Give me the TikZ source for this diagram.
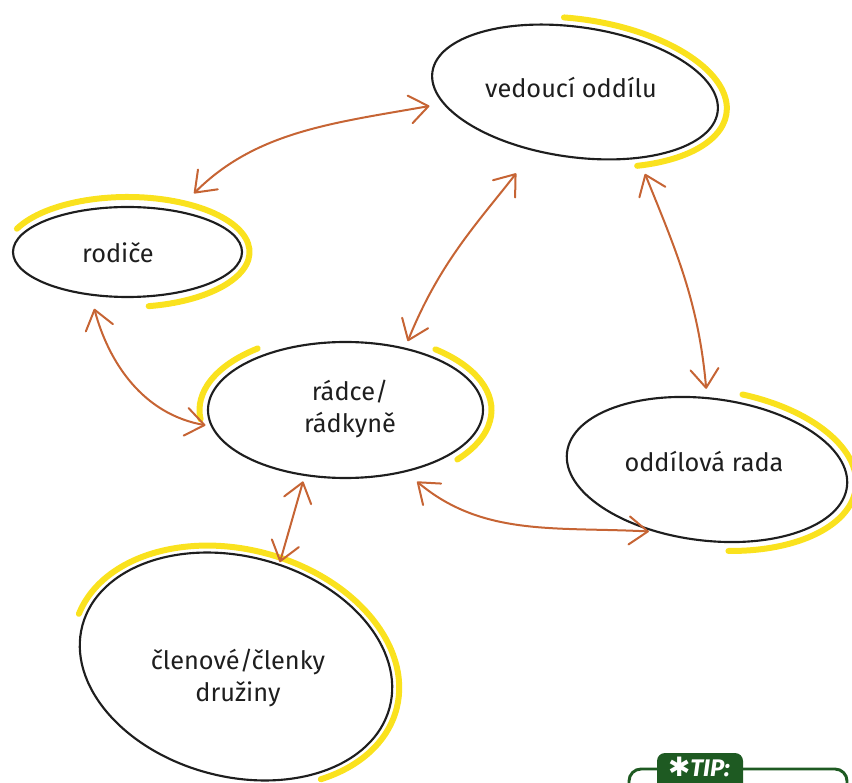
\documentclass[tikz,border=0pt]{standalone}
\usepackage{fontspec}
\setmainfont{Fira Sans}
\newfontfamily\symfnt{DejaVu Sans}
\usetikzlibrary{shapes.geometric,arrows.meta}
\definecolor{hl}{RGB}{250,226,30}
\definecolor{arrc}{RGB}{198,100,52}
\definecolor{tipg}{RGB}{30,90,34}
\definecolor{ink}{RGB}{30,30,30}
\begin{document}
\begin{tikzpicture}[x=0.75pt,y=0.75pt,
  bubble/.style={draw=ink, line width=1.6pt, ellipse, inner sep=0pt, outer sep=0pt},
  hlline/.style={draw=hl, line width=4.5pt, line cap=round},
  lbl/.style={font=\fontsize{19}{24}\selectfont, align=center, inner sep=0pt, text=ink},
  rel/.style={draw=arrc, line width=1.5pt, line cap=round,
    {Straight Barb[length=14pt,width=21pt,round]}-{Straight Barb[length=14pt,width=21pt,round]}},
]
\useasboundingbox (0,0) rectangle (852,782);

% yellow highlights
\begin{scope}[shift={(575,690)},rotate=-8]
  \draw[hlline] (98:153 and 73) arc[start angle=98,end angle=-62,x radius=153,y radius=73];
\end{scope}
\begin{scope}[shift={(127.5,530)}]
  \draw[hlline] (155:122 and 55) arc[start angle=155,end angle=-80,x radius=122,y radius=55];
\end{scope}
\begin{scope}[shift={(345.5,372)}]
  \draw[hlline] (127:146 and 77) arc[start angle=127,end angle=187,x radius=146,y radius=77];
  \draw[hlline] (52:146 and 77) arc[start angle=52,end angle=-40,x radius=146,y radius=77];
\end{scope}
\begin{scope}[shift={(707,312.5)},rotate=-7]
  \draw[hlline] (80:150 and 80) arc[start angle=80,end angle=-78,x radius=150,y radius=80];
\end{scope}
\begin{scope}[shift={(236,115.5)},rotate=-15]
  \draw[hlline] (175:166 and 117) arc[start angle=175,end angle=-48,x radius=166,y radius=117];
\end{scope}

% ellipses
\node[bubble, minimum width=216pt, minimum height=97.5pt, rotate=-8] (V) at (575,690) {};
\node[bubble, minimum width=171.75pt, minimum height=67.5pt] (R) at (127.5,530) {};
\node[bubble, minimum width=206.25pt, minimum height=102pt] (C) at (345.5,372) {};
\node[bubble, minimum width=211.5pt, minimum height=106.5pt, rotate=-7] (O) at (707,312.5) {};
\node[bubble, minimum width=238.5pt, minimum height=165pt, rotate=-15] (M) at (236,115.5) {};

% labels
\node[lbl] (Vt) at (571,694) {vedoucí oddílu};
\node[lbl] (Rt) at (118,529) {rodiče};
\node[lbl] (Ct) at (350,373) {rádce/\\rádkyně};
\node[lbl] (Ot) at (704,320) {oddílová rada};
\node[lbl] (Mt) at (238,104) {členové/členky\\družiny};

% relations
\draw[rel, shorten <=19pt, shorten >=11pt] (R.40) to[out=45,in=190] (V.193);
\draw[rel, shorten <=6pt, shorten >=22pt] (C.46) to[out=68,in=232] (V.243);
\draw[rel, shorten <=13pt, shorten >=7pt] (V.322) to[out=-68,in=95] (O.97);
\draw[rel, shorten <=11pt, shorten >=5pt] (R.229) to[out=-75,in=170] (C.187);
\draw[rel, shorten <=12pt, shorten >=7pt] (C.314) to[out=-40,in=177] (O.239);
\draw[rel, shorten <=5pt, shorten >=2pt] (C.238) -- (M.82);

% tip box
\node[draw=tipg, line width=2.2pt, rounded corners=9pt, minimum width=163.5pt, minimum height=39.75pt, inner sep=0pt] (tipbox) at (738,-13.5) {};
\node[fill=tipg, rounded corners=6pt, minimum width=64.5pt, minimum height=29.25pt, inner sep=0pt] (tiptab) at (700,9.5) {};
\node[text=white, inner sep=0pt, anchor=base, font=\fontsize{18}{20}\selectfont] (tiptxt) at (699,6) {{\symfnt\fontsize{20}{20}\selectfont ✱}\textbf{\textit{TIP:}}};
\end{tikzpicture}
\end{document}
